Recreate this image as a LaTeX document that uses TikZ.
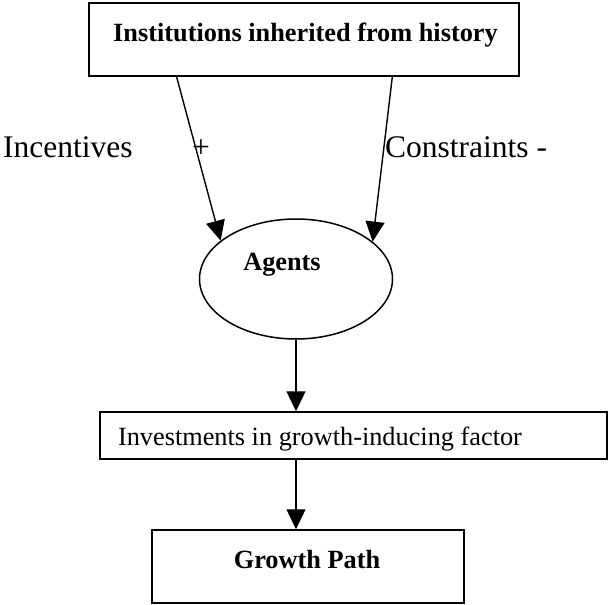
\documentclass[tikz,border=0pt]{standalone}
\usepackage{fontspec}
\setmainfont{Liberation Serif}
\usetikzlibrary{arrows.meta,shapes.geometric,calc}
\begin{document}
\begin{tikzpicture}[x=1pt,y=-1pt,
  box/.style={draw, line width=1.5pt, rectangle, inner sep=0pt},
  oval/.style={draw, line width=1.5pt, ellipse, inner sep=0pt},
  conn/.style={line width=1.4pt, -{Triangle[length=20pt,width=19pt]}},
  boldtext/.style={font=\fontsize{26.3}{30}\selectfont\bfseries, inner sep=0pt, anchor=base},
  plaintext/.style={font=\fontsize{26.3}{30}\selectfont, inner sep=0pt, anchor=base},
  sidetext/.style={font=\fontsize{31.5}{36}\selectfont, inner sep=0pt, anchor=base west}]
\useasboundingbox (0,0) rectangle (608,605);

% boxes and oval
\node[box, minimum width=430pt, minimum height=73pt] (inst) at (304,39.5) {};
\node[boldtext] (instt) at (305.5,41) {Institutions inherited from history};

\node[oval, minimum width=193pt, minimum height=120pt] (ag) at (296,279) {};
\node[boldtext] (agt) at (282,270) {Agents};

\node[box, minimum width=507pt, minimum height=47pt] (inv) at (353.5,435.5) {};
\node[plaintext] (invt) at (320,445) {Investments in growth-inducing factor};

\node[box, minimum width=312pt, minimum height=73pt] (gp) at (308,566.5) {};
\node[boldtext] (gpt) at (307,568) {Growth Path};

% side labels
\node[sidetext] (inc) at (3,157) {Incentives};
\node[sidetext, anchor=base] (plus) at (201,157) {+};
\node[sidetext] (con) at (385,157) {Constraints -};

% connectors
\draw[conn] ($(inst.south west)!0.2047!(inst.south east)$) -- (ag.153);
\draw[conn] ($(inst.south west)!0.7047!(inst.south east)$) -- (ag.26);
\draw[conn] (ag.south) -- (ag.south |- inv.north);
\draw[conn] (ag.south |- inv.south) -- (ag.south |- gp.north);
\end{tikzpicture}
\end{document}
